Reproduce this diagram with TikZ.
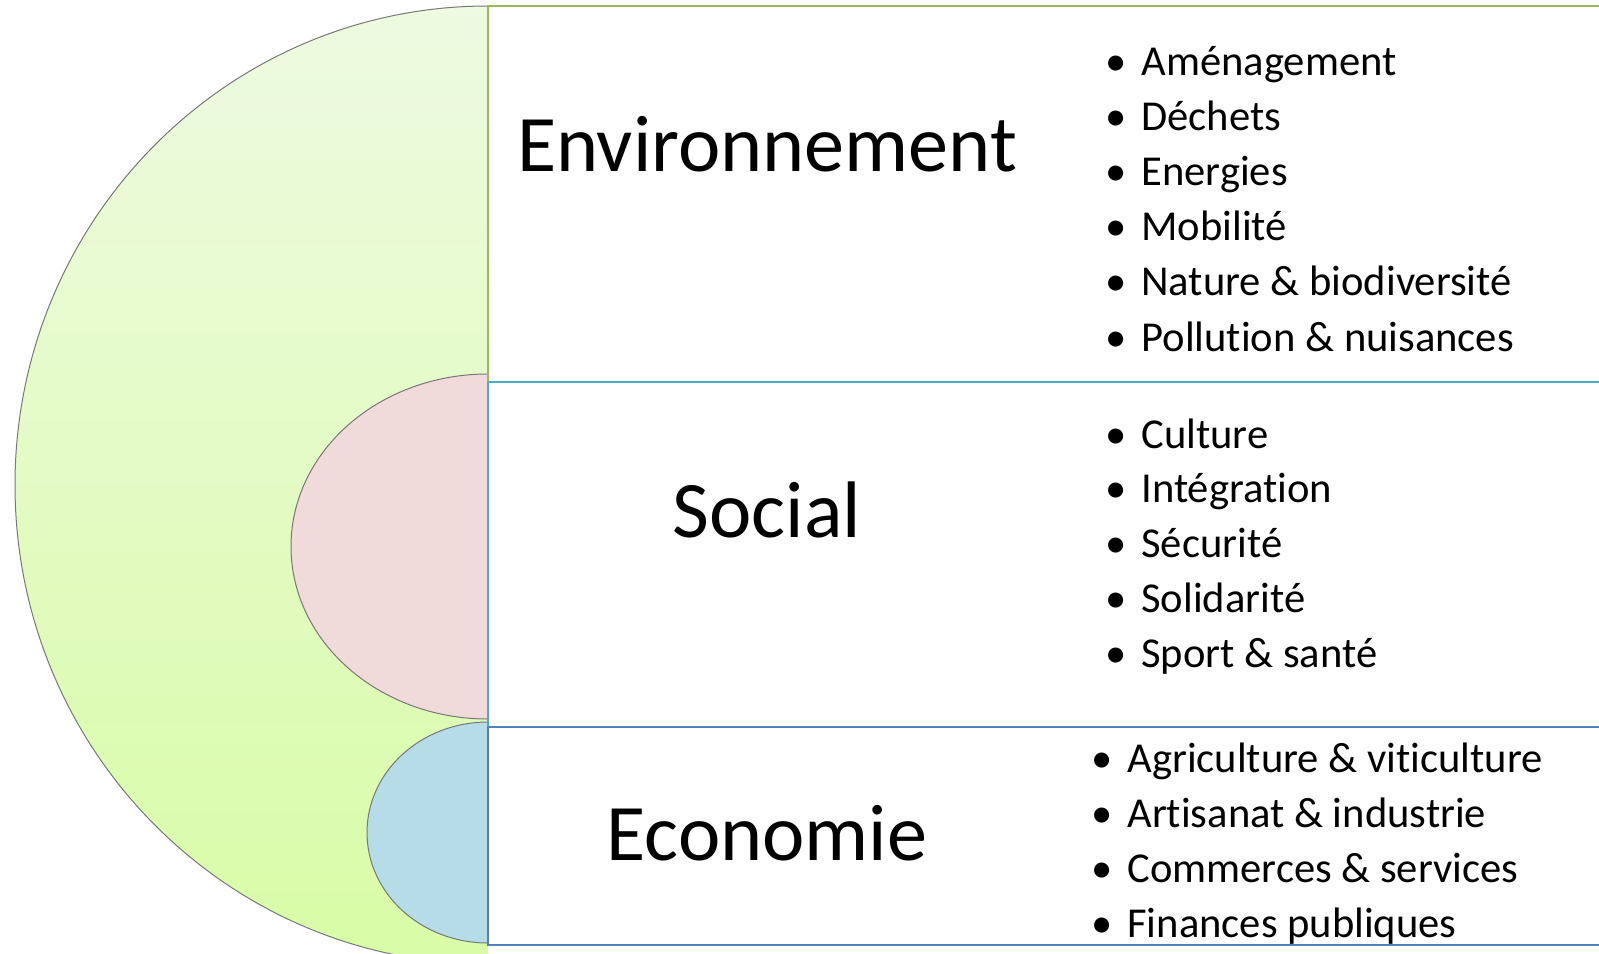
\documentclass[tikz,border=0pt]{standalone}
\usepackage{fontspec}
\setmainfont{Carlito}[Ligatures=NoCommon]
\definecolor{envline}{RGB}{155,187,89}
\definecolor{socline}{RGB}{75,172,198}
\definecolor{ecoline}{RGB}{79,129,189}
\definecolor{envtop}{RGB}{238,250,225}
\definecolor{envbot}{RGB}{216,252,166}
\definecolor{socfill}{RGB}{240,218,218}
\definecolor{ecofill}{RGB}{182,220,231}
\definecolor{rimgray}{RGB}{120,120,120}
\begin{document}
\begin{tikzpicture}[x=0.5pt, y=-0.5pt,
  title/.style = {inner sep=0, anchor=base, font=\fontsize{40.1}{48}\selectfont},
  item/.style = {inner sep=0, anchor=base west, font=\fontsize{21.3}{27}\selectfont},
  rim/.style = {draw=rimgray, line width=0.5pt},
  boxline/.style = {line width=1pt}]
\useasboundingbox (0,0) rectangle (1599,953);
%%
%% half discs (only the left halves are seen)
\begin{scope}
\clip (0,0) rectangle (488,953);
\shade [top color=envtop, bottom color=envbot] (488,485) ellipse [x radius=473, y radius=479];
\draw [rim] (488,485) ellipse [x radius=473, y radius=479];
\fill [socfill] (488,546.5) ellipse [x radius=197, y radius=172.5];
\draw [rim] (488,546.5) ellipse [x radius=197, y radius=172.5];
\fill [ecofill] (488,832.5) ellipse [x radius=121, y radius=110.5];
\draw [rim] (488,832.5) ellipse [x radius=121, y radius=110.5];
\end{scope}
%%
%% boxes
\draw [boxline, envline]  (1620,6)   --  (488,6)   --  (488,382);
\draw [boxline, socline]  (1620,382) --  (488,382) --  (488,727);
\draw [boxline, ecoline]  (1620,727) --  (488,727) --  (488,945)  --  (1620,945);
%%
%% titles
\node [title] (env) at (767,171) {Environnement};
\node [title] (soc) at (767,537) {Social};
\node [title] (eco) at (767,860) {Economie};
%%
%% lists
\foreach \txt [count=\i] in {Aménagement, Déchets, Energies, Mobilité, Nature \& biodiversité, Pollution \& nuisances}
  \node [item] (env\i) at (1105,{75.5+55.1*(\i-1)}) {\makebox[18pt][l]{\textbullet}\txt};
\foreach \txt [count=\i] in {Culture, Intégration, Sécurité, Solidarité, Sport \& santé}
  \node [item] (soc\i) at (1105,{448+54.8*(\i-1)}) {\makebox[18pt][l]{\textbullet}\txt};
\foreach \txt [count=\i] in {Agriculture \& viticulture, Artisanat \& industrie, Commerces \& services, Finances publiques}
  \node [item] (eco\i) at (1091,{772+55*(\i-1)}) {\makebox[18pt][l]{\textbullet}\txt};
%%
\end{tikzpicture}
\end{document}
